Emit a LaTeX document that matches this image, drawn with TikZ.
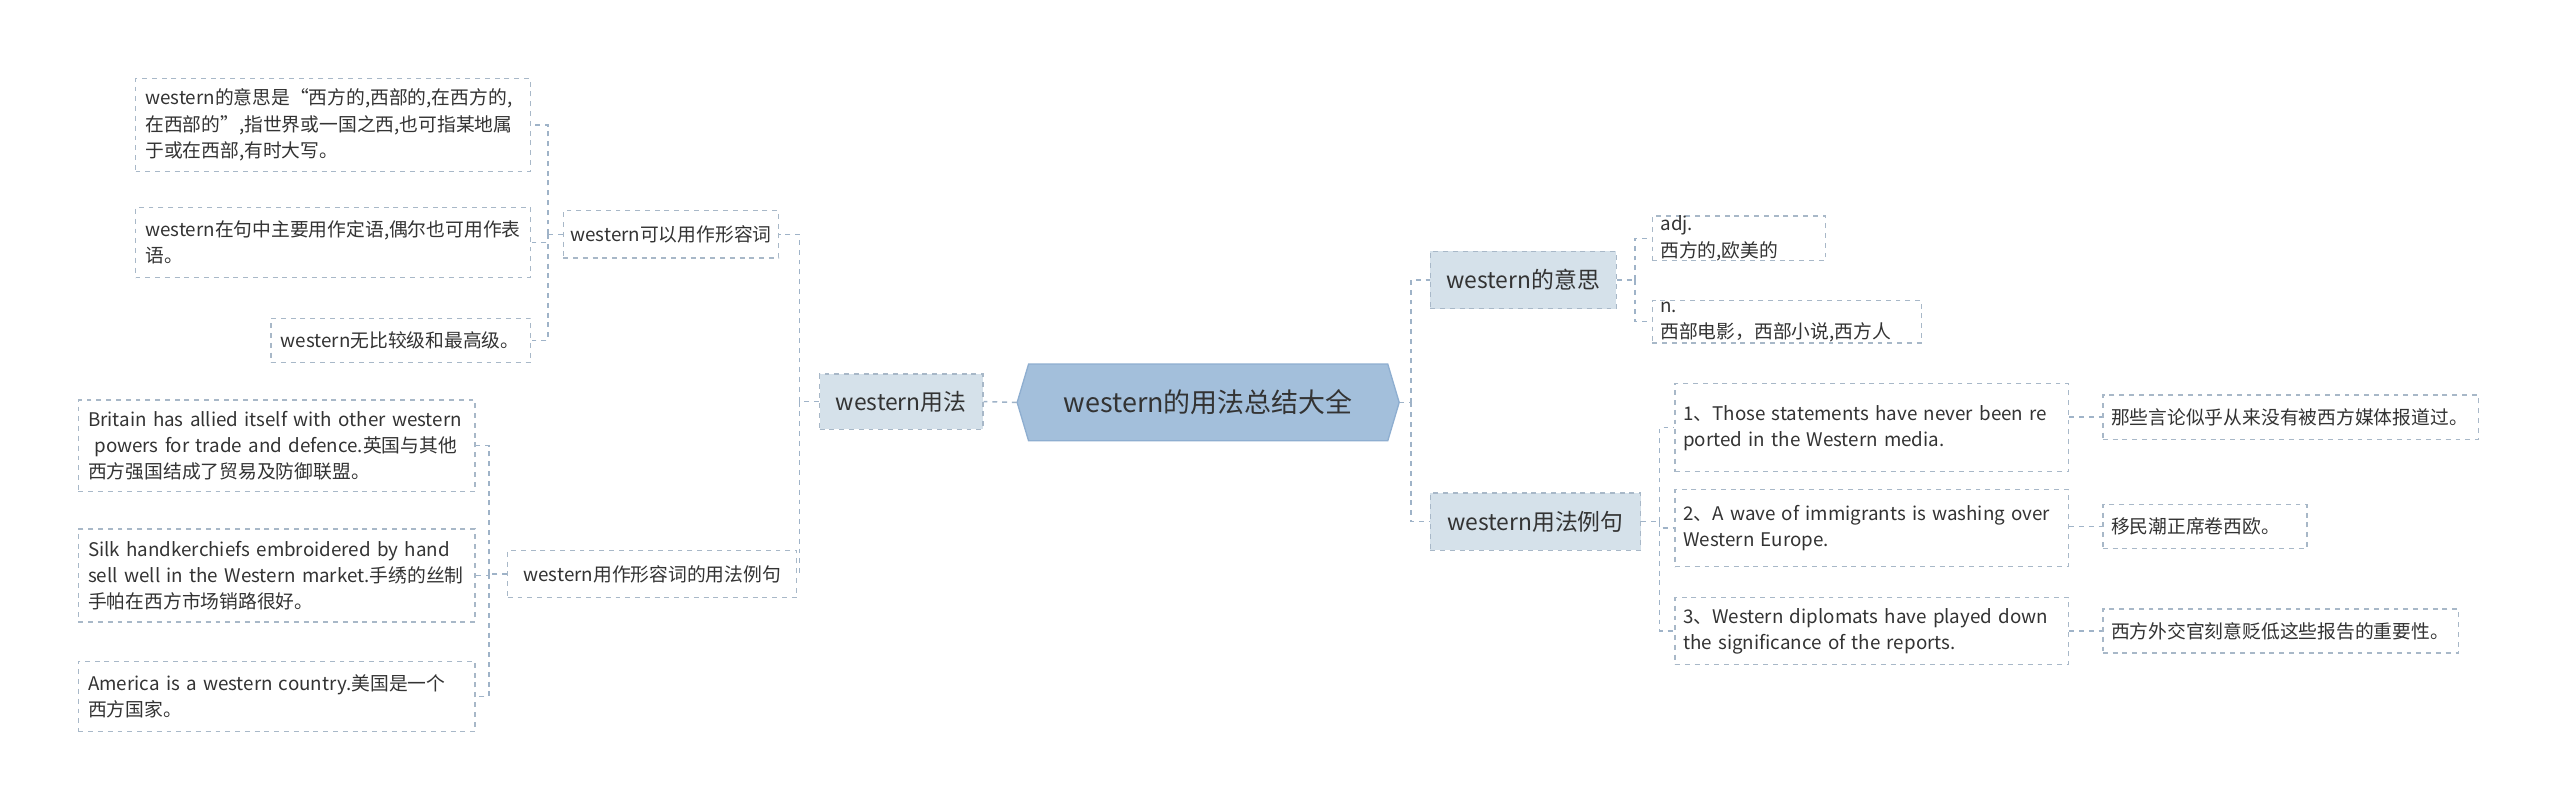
\documentclass[tikz,border=0pt]{standalone}
\usepackage{fontspec}
\setmainfont{Noto Sans CJK SC}
\begin{document}
\begin{tikzpicture}[x=1pt,y=-1pt,
  conn/.style={draw=lineC,dashed,line width=0.9pt},
  box/.style={draw=boxC,dashed,line width=0.8pt,inner sep=0pt,text=textC},
  leaf/.style={box,fill=white,align=left,font=\fontsize{11.5}{16}\selectfont},
  sub/.style={box,fill=white,align=center,font=\fontsize{11.5}{16}\selectfont},
  branch/.style={box,fill=brC,align=center,font=\fontsize{14}{18}\selectfont}]
\definecolor{lineC}{HTML}{9FB3C8}
\definecolor{boxC}{HTML}{A8B8C8}
\definecolor{textC}{HTML}{333333}
\definecolor{brC}{HTML}{D5E1EA}
\definecolor{rootC}{HTML}{A3BFDB}
\definecolor{rootB}{HTML}{8EAED0}
\useasboundingbox[fill=white] (0,0) rectangle (1568,497);
% root
\fill[rootC,draw=rootB,line width=0.8pt] (630,223)--(850,223)--(857,246.5)--(850,270)--(630,270)--(623,246.5)--cycle;
\node[inner sep=0pt,minimum width=234pt,minimum height=47pt,font=\fontsize{16.5}{20}\selectfont,text=textC] (root) at (740,246.5) {western的用法总结大全};
% left
\node[branch,minimum width=100pt,minimum height=34pt] (yf) at (552,246) {western用法};
\node[sub,minimum width=132pt,minimum height=29pt] (s1) at (411,143.5) {western可以用作形容词};
\node[sub,minimum width=177pt,minimum height=29pt] (s2) at (399.5,351.5) {western用作形容词的用法例句};
\node[leaf,minimum width=242pt,minimum height=57pt,text width=230pt] (l1) at (204,76.5) {western的意思是“西方的,西部的,在西方的,\\在西部的”,指世界或一国之西,也可指某地属\\于或在西部,有时大写。};
\node[leaf,minimum width=242pt,minimum height=43pt,text width=230pt] (l2) at (204,148.5) {western在句中主要用作定语,偶尔也可用作表\\语。};
\node[leaf,minimum width=159pt,minimum height=27pt,text width=147pt] (l3) at (245.5,208.5) {western无比较级和最高级。};
\node[leaf,minimum width=243pt,minimum height=56pt,text width=231pt] (l4) at (169.5,273) {Britain has allied itself with other western\\ \ powers for trade and defence.英国与其他\\西方强国结成了贸易及防御联盟。};
\node[leaf,minimum width=243pt,minimum height=57pt,text width=231pt] (l5) at (169.5,352.5) {Silk handkerchiefs embroidered by hand\\sell well in the Western market.手绣的丝制\\手帕在西方市场销路很好。};
\node[leaf,minimum width=243pt,minimum height=43pt,text width=231pt] (l6) at (169.5,426.5) {America is a western country.美国是一个\\西方国家。};
% right
\node[branch,minimum width=114pt,minimum height=35pt] (m) at (933,171.5) {western的意思};
\node[branch,minimum width=129pt,minimum height=35pt] (e) at (940.5,319.5) {western用法例句};
\node[leaf,minimum width=106pt,minimum height=26pt,text width=96pt] (a1) at (1065,146) {adj. 西方的,欧美的};
\node[leaf,minimum width=165pt,minimum height=26pt,text width=155pt] (a2) at (1094.5,197) {n. 西部电影，西部小说,西方人};
\node[leaf,minimum width=241pt,minimum height=54pt,text width=231pt] (e1) at (1146.5,262) {1、Those statements have never been re\\ported in the Western media.};
\node[leaf,minimum width=241pt,minimum height=47pt,text width=231pt] (e2) at (1146.5,323.5) {2、A wave of immigrants is washing over\\Western Europe.};
\node[leaf,minimum width=241pt,minimum height=41pt,text width=231pt] (e3) at (1146.5,386.5) {3、Western diplomats have played down\\the significance of the reports.};
\node[leaf,minimum width=230pt,minimum height=27pt,text width=220pt] (t1) at (1403,255.5) {那些言论似乎从来没有被西方媒体报道过。};
\node[leaf,minimum width=125pt,minimum height=27pt,text width=115pt] (t2) at (1350.5,322.5) {移民潮正席卷西欧。};
\node[leaf,minimum width=218pt,minimum height=27pt,text width=208pt] (t3) at (1397,386.5) {西方外交官刻意贬低这些报告的重要性。};
% connectors
\draw[conn] (root.west) -- (yf.east);
\draw[conn] (yf.west) -- ++(-12,0) coordinate (b1);
\draw[conn] (b1) |- (s1.east);
\draw[conn] (b1) |- (s2.east);
\draw[conn] (s1.west) -- ++(-9,0) coordinate (b2);
\draw[conn] (b2) |- (l1.east);
\draw[conn] (b2) |- (l2.east);
\draw[conn] (b2) |- (l3.east);
\draw[conn] (s2.west) -- ++(-11,0) coordinate (b3);
\draw[conn] (b3) |- (l4.east);
\draw[conn] (b3) |- (l5.east);
\draw[conn] (b3) |- (l6.east);
\draw[conn] (root.east) -- ++(7,0) coordinate (b4);
\draw[conn] (b4) |- (m.west);
\draw[conn] (b4) |- (e.west);
\draw[conn] (m.east) -- ++(11,0) coordinate (b5);
\draw[conn] (b5) |- (a1.west);
\draw[conn] (b5) |- (a2.west);
\draw[conn] (e.east) -- ++(11,0) coordinate (b6);
\draw[conn] (b6) |- (e1.west);
\draw[conn] (b6) |- (e2.west);
\draw[conn] (b6) |- (e3.west);
\draw[conn] (t1.west -| e1.east) -- (t1.west);
\draw[conn] (t2.west -| e2.east) -- (t2.west);
\draw[conn] (t3.west -| e3.east) -- (t3.west);
\end{tikzpicture}
\end{document}
